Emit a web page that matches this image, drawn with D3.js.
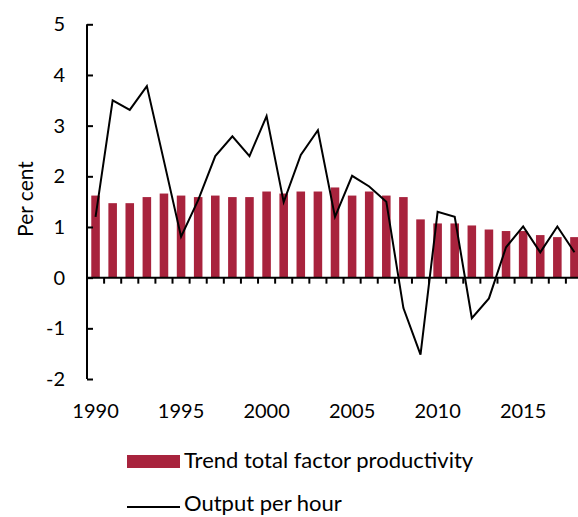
<!DOCTYPE html>
<html>
<head>
<meta charset="utf-8">
<script src="https://cdn.jsdelivr.net/npm/d3@7"></script>
<style>
  body { margin: 0; background: #fff; }
  text { font-family: Lato, "Open Sans", sans-serif; fill: #000; }
</style>
</head>
<body>
<svg width="578" height="517"></svg>
<script>
var width = 578,
    height = 517;

var years = d3.range(1990, 2019);
// trend TFP growth (bars)
var tfp = [1.62, 1.47, 1.47, 1.59, 1.66, 1.62, 1.59, 1.62, 1.59, 1.59,
           1.70, 1.66, 1.70, 1.70, 1.78, 1.62, 1.70, 1.62, 1.59, 1.15,
           1.07, 1.07, 1.03, 0.95, 0.92, 0.92, 0.84, 0.80, 0.80];
// output per hour growth (line)
var oph = [1.20, 3.50, 3.31, 3.78, 2.30, 0.81, 1.53, 2.40, 2.79, 2.40,
           3.19, 1.49, 2.42, 2.91, 1.20, 2.01, 1.80, 1.50, -0.60, -1.52,
           1.30, 1.20, -0.80, -0.41, 0.60, 1.01, 0.50, 1.01, 0.50];
var yTicks = [-2, -1, 0, 1, 2, 3, 4, 5];
var xLabels = [1990, 1995, 2000, 2005, 2010, 2015];

var svg = d3.select("svg");

var x = d3.scaleBand()
    .domain(years)
    .range([87, 583])
    .paddingInner(0.5)
    .paddingOuter(0.25);

var y = d3.scaleLinear()
    .domain([-2, 5])
    .range([379, 24.3]);

// bars
svg.append("g")
    .selectAll("rect")
    .data(years)
    .join("rect")
    .attr("x", function (d) { return x(d); })
    .attr("width", x.bandwidth())
    .attr("y", function (d, i) { return y(Math.max(0, tfp[i])); })
    .attr("height", function (d, i) { return Math.abs(y(tfp[i]) - y(0)); })
    .attr("fill", "#a8233d");

// y axis
var yAxis = svg.append("g")
    .attr("transform", "translate(87,0)")
    .call(d3.axisRight(y).tickValues(yTicks).tickSize(6).tickFormat(""));
yAxis.select(".domain").attr("d", "M0," + y(5) + "V" + y(-2)).attr("stroke-width", 2);
yAxis.selectAll(".tick line").attr("stroke-width", 2);

svg.append("g")
    .selectAll("text")
    .data(yTicks)
    .join("text")
    .attr("x", 65)
    .attr("y", function (d) { return y(d) + 7; })
    .attr("text-anchor", "end")
    .style("font-size", "20px")
    .text(function (d) { return d; });

// x axis at zero
var stepX = x.step();
var tickPos = d3.range(1, years.length).map(function (i) { return 87 + i * stepX; });
svg.append("line")
    .attr("x1", 87).attr("x2", width)
    .attr("y1", y(0)).attr("y2", y(0))
    .attr("stroke", "#000").attr("stroke-width", 2);
svg.append("g")
    .selectAll("line")
    .data(tickPos)
    .join("line")
    .attr("x1", function (d) { return d; })
    .attr("x2", function (d) { return d; })
    .attr("y1", y(0))
    .attr("y2", y(0) + 6)
    .attr("stroke", "#000")
    .attr("stroke-width", 2);

svg.append("g")
    .selectAll("text")
    .data(xLabels)
    .join("text")
    .attr("x", function (d) { return x(d) + x.bandwidth() / 2; })
    .attr("y", 418)
    .attr("text-anchor", "middle")
    .style("font-size", "20px")
    .text(function (d) { return d; });

// line
var line = d3.line()
    .x(function (d, i) { return x(years[i]) + x.bandwidth() / 2; })
    .y(function (d) { return y(d); });
svg.append("path")
    .datum(oph)
    .attr("d", line)
    .attr("fill", "none")
    .attr("stroke", "#000")
    .attr("stroke-width", 2);

// y label
svg.append("text")
    .attr("transform", "translate(33,199) rotate(-90)")
    .attr("text-anchor", "middle")
    .style("font-size", "21px")
    .text("Per cent");

// legend
svg.append("rect")
    .attr("x", 127).attr("y", 455)
    .attr("width", 53).attr("height", 13)
    .attr("fill", "#a8233d");
svg.append("text")
    .attr("x", 184).attr("y", 468)
    .style("font-size", "22px")
    .text("Trend total factor productivity");
svg.append("line")
    .attr("x1", 127).attr("x2", 180)
    .attr("y1", 507).attr("y2", 507)
    .attr("stroke", "#000").attr("stroke-width", 2);
svg.append("text")
    .attr("x", 184).attr("y", 511)
    .style("font-size", "22px")
    .text("Output per hour");
</script>
</body>
</html>
